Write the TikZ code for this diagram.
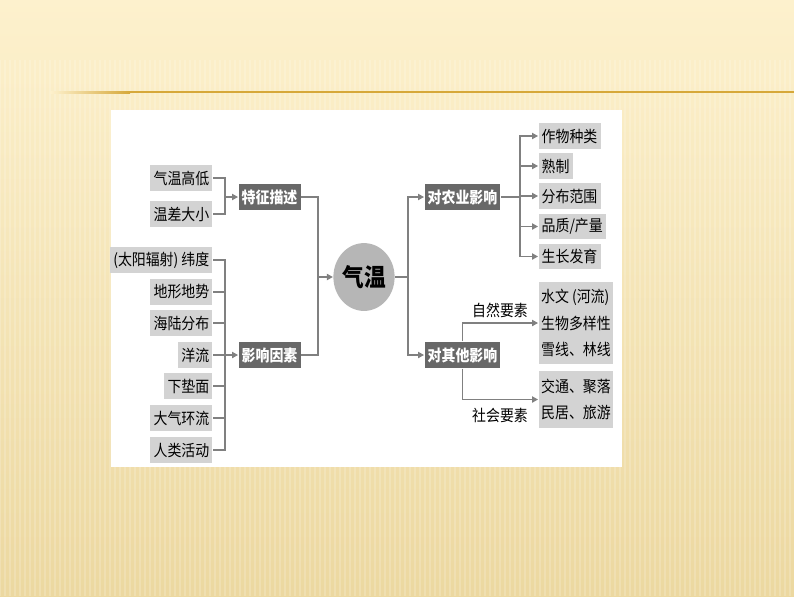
\documentclass[tikz,border=0pt]{standalone}
\usepackage{fontspec}
\setmainfont{Noto Sans CJK SC}[FakeStretch=0.88]
\usepackage{tikz}
\usetikzlibrary{shapes}
\usetikzlibrary{arrows.meta}
\definecolor{boxgray}{RGB}{211,211,211}
\definecolor{topicgray}{RGB}{104,104,104}
\definecolor{coregray}{RGB}{182,182,182}
\definecolor{linegray}{RGB}{128,128,128}
\definecolor{creamtop}{RGB}{253,241,205}
\definecolor{creambot}{RGB}{236,216,160}
\definecolor{goldline}{RGB}{214,168,58}
\tikzstyle{leaf}=[rectangle,fill=boxgray,inner xsep=1.8pt,inner ysep=0pt,minimum height=14.6pt,font=\fontsize{9}{10}\selectfont]
\tikzstyle{topic}=[rectangle,fill=topicgray,text=white,inner xsep=1.8pt,inner ysep=0pt,minimum height=14.8pt,font=\bfseries\fontsize{9}{10}\selectfont]
\tikzstyle{core}=[ellipse,fill=coregray,minimum width=33pt,minimum height=38.6pt,inner sep=0pt,font=\bfseries\fontsize{14}{15}\selectfont]
\tikzstyle{group}=[rectangle,fill=boxgray,align=left,inner xsep=1.5pt,inner ysep=4.3pt,font=\fontsize{9}{15}\selectfont]
\tikzstyle{tag}=[inner sep=0pt,font=\fontsize{9}{10}\selectfont]
\tikzstyle{link}=[draw=linegray]
\tikzstyle{arrow}=[-{Triangle[length=3.4pt,width=3.6pt]},draw=linegray]
\tikzset{every picture/.style={
    line width=0.6pt
  }
}
\begin{document}
\begin{tikzpicture}[x=0.02cm,y=-0.02cm]
          \useasboundingbox (0,0) rectangle (794,596);
          % background
          \shade[top color=creamtop,bottom color=creambot] (0,0) rectangle (794,596);
          \foreach \x in {0,5,...,794}
            \draw[white,opacity=0.18,line width=1pt] (\x,60) -- (\x,596);
          \shade[left color=creamtop,right color=goldline] (50,91) rectangle (130,93);
          \fill[goldline] (130,91) rectangle (794,93);
          \fill[white] (111,110) rectangle (622,467);
          % left side
          \node[leaf,anchor=east] at (213,178) (qwgd) {气温高低};
          \node[leaf,anchor=east] at (213,214) (wcdx) {温差大小};
          \node[topic,anchor=west] at (238,197) (tzms) {特征描述};
          \node[leaf,anchor=east] at (213,260) (wd) {(太阳辐射) 纬度};
          \node[leaf,anchor=east] at (213,292) (dxds) {地形地势};
          \node[leaf,anchor=east] at (213,323) (hlfb) {海陆分布};
          \node[leaf,anchor=east] at (213,355) (yl) {洋流};
          \node[leaf,anchor=east] at (213,386) (xdm) {下垫面};
          \node[leaf,anchor=east] at (213,418) (dqhl) {大气环流};
          \node[leaf,anchor=east] at (213,450) (rlhd) {人类活动};
          \node[topic,anchor=west] at (238,355) (yxys) {影响因素};
          % centre
          \node[core] at (364,277) (qw) {气温};
          % right side
          \node[topic,anchor=west] at (424,197) (nyyx) {对农业影响};
          \node[topic,anchor=west] at (424,355) (qtyx) {对其他影响};
          \node[leaf,anchor=west] at (538,136) (zwzl) {作物种类};
          \node[leaf,anchor=west] at (538,166) (sz) {熟制};
          \node[leaf,anchor=west] at (538,196) (fbfw) {分布范围};
          \node[leaf,anchor=west] at (538,226.5) (pzcl) {品质/产量};
          \node[leaf,anchor=west] at (538,256.5) (zzfy) {生长发育};
          \node[group,anchor=west] at (538,323) (zrys) {水文 (河流)\\生物多样性\\雪线、林线};
          \node[group,anchor=west] at (538,399.5) (shys) {交通、聚落\\民居、旅游};
          \node[tag] at (500,310) (zrlbl) {自然要素};
          \node[tag] at (500,415) (shlbl) {社会要素};
          % connectors
          \coordinate (tzJ) at (225,197);
          \draw[link] (qwgd.east) -| (tzJ);
          \draw[link] (wcdx.east) -| (tzJ);
          \draw[arrow] (tzJ) -- (tzms.west);
          \coordinate (yxJ) at (225,355);
          \foreach \n in {wd,dxds,hlfb,yl,xdm,dqhl,rlhd}
            \draw[link] (\n.east) -| (yxJ);
          \draw[arrow] (yxJ) -- (yxys.west);
          \coordinate (qwJ) at (318,277);
          \draw[link] (tzms.east) -| (qwJ);
          \draw[link] (yxys.east) -| (qwJ);
          \draw[arrow] (qwJ) -- (qw.west);
          \coordinate (fxJ) at (408,277);
          \draw[link] (qw.east) -- (fxJ);
          \draw[arrow] (fxJ) |- (nyyx.west);
          \draw[arrow] (fxJ) |- (qtyx.west);
          \coordinate (nyJ) at (520,197);
          \draw[link] (nyyx.east) -- (nyJ);
          \foreach \n in {zwzl,sz,fbfw,pzcl,zzfy}
            \draw[arrow] (nyJ) |- (\n.west);
          \draw[arrow] (qtyx.north) |- (zrys.west);
          \draw[arrow] (qtyx.south) |- (shys.west);
        \end{tikzpicture}
\end{document}
